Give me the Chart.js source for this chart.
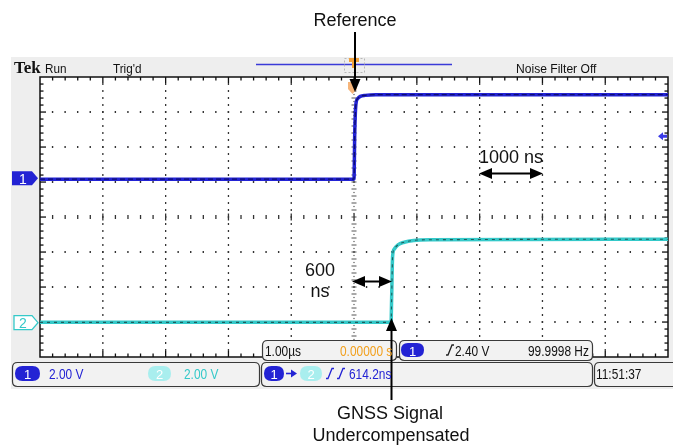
<!DOCTYPE html>
<html><head><meta charset="utf-8">
<script src="https://cdn.jsdelivr.net/npm/chart.js@4/dist/chart.umd.min.js"></script>
<style>
html,body{margin:0;padding:0;background:#fff;}
#wrap{position:relative;width:673px;height:445px;overflow:hidden;}
#c{position:absolute;left:0;top:0;}
.t{position:absolute;white-space:nowrap;font-family:"Liberation Sans",Arial,sans-serif;line-height:1;}
</style></head><body>
<div id="wrap"><canvas id="c" width="673" height="445"></canvas></div>
<script>
// ---- waveform data (time in microseconds, volts) ----
const ch1TimeUs = [-5, 0, 0.012, 0.03, 0.06, 0.1, 0.18, 0.35, 5];
const ch1Volts  = [-0.06, -0.06, 2.6, 4.2, 4.55, 4.67, 4.73, 4.77, 4.77];
const ch2TimeUs = [-5, 0.59, 0.6, 0.615, 0.64, 0.7, 0.8, 0.95, 1.2, 5];
const ch2Volts  = [0.02, 0.02, 1.5, 3.8, 4.2, 4.45, 4.6, 4.7, 4.74, 4.77];
// ---- scope settings ----
const timePerDivUs = 1.0;
const timeDivs = 10;
const voltDivs = 8;
const ch1VoltsPerDiv = 2.0;
const ch1PositionDiv = 1.11;
const ch2VoltsPerDiv = 2.0;
const ch2PositionDiv = -3.02;
const ch1TriggerLevelV = 2.40;

const toPts = (xs, ys) => xs.map((x, i) => ({x, y: ys[i]}));

const PANEL = '#eeeeee';
const BLUE = '#2323d4';
const CYAN = '#35c9c9';

function rr(ctx, x, y, w, h, r){
  ctx.beginPath();
  ctx.moveTo(x+r, y); ctx.lineTo(x+w-r, y); ctx.quadraticCurveTo(x+w, y, x+w, y+r);
  ctx.lineTo(x+w, y+h-r); ctx.quadraticCurveTo(x+w, y+h, x+w-r, y+h);
  ctx.lineTo(x+r, y+h); ctx.quadraticCurveTo(x, y+h, x, y+h-r);
  ctx.lineTo(x, y+r); ctx.quadraticCurveTo(x, y, x+r, y); ctx.closePath();
}
function box(ctx, x, y, w, h){
  rr(ctx, x+0.5, y+0.5, w, h, 5);
  ctx.fillStyle = '#f2f2f2'; ctx.fill();
  ctx.strokeStyle = '#3a3a3a'; ctx.lineWidth = 1.2; ctx.stroke();
}
function pill(ctx, x, y, w, h, color){
  rr(ctx, x, y, w, h, h/2);
  ctx.fillStyle = color; ctx.fill();
}
function edge(ctx, x, y, color){
  ctx.beginPath();
  ctx.moveTo(x, y+5); ctx.lineTo(x+2, y+5); ctx.lineTo(x+6, y-5); ctx.lineTo(x+8, y-5);
  ctx.strokeStyle = color; ctx.lineWidth = 1.3; ctx.stroke();
}
function arrow(ctx, x1, y1, x2, y2, both){
  const L = 13, W = 5.5;
  const ang = Math.atan2(y2-y1, x2-x1);
  const head = (x, y, a) => {
    ctx.beginPath();
    ctx.moveTo(x, y);
    ctx.lineTo(x - L*Math.cos(a) + W*Math.sin(a), y - L*Math.sin(a) - W*Math.cos(a));
    ctx.lineTo(x - L*Math.cos(a) - W*Math.sin(a), y - L*Math.sin(a) + W*Math.cos(a));
    ctx.closePath(); ctx.fill();
  };
  ctx.strokeStyle = '#000'; ctx.fillStyle = '#000'; ctx.lineWidth = 2;
  ctx.beginPath();
  ctx.moveTo(x1 + (both ? 8*Math.cos(ang) : 0), y1 + (both ? 8*Math.sin(ang) : 0));
  ctx.lineTo(x2 - 8*Math.cos(ang), y2 - 8*Math.sin(ang));
  ctx.stroke();
  head(x2, y2, ang);
  if (both) head(x1, y1, ang + Math.PI);
}

const scopePlugin = {
  id: 'scope',
  beforeDraw(chart){
    const ctx = chart.ctx, a = chart.chartArea;
    ctx.save();
    ctx.fillStyle = '#fff'; ctx.fillRect(0, 0, chart.width, chart.height);
    ctx.fillStyle = PANEL; ctx.fillRect(11, 57, chart.width - 11, 332);
    ctx.fillStyle = '#fff'; ctx.fillRect(a.left, a.top, a.right - a.left, a.bottom - a.top);
    const L = a.left, R = a.right, T = a.top, B = a.bottom;
    const dx = (R - L) / timeDivs, dy = (B - T) / voltDivs;
    ctx.fillStyle = '#333';
    // dotted graticule lines
    for (let i = 1; i < timeDivs; i++){
      if (i === timeDivs/2) continue;
      const x = L + i*dx;
      for (let k = 1; k < voltDivs*5; k++) ctx.fillRect(x - 0.6, T + k*dy/5 - 1, 1.3, 2);
    }
    for (let j = 1; j < voltDivs; j++){
      if (j === voltDivs/2) continue;
      const y = T + j*dy;
      for (let k = 1; k < timeDivs*5; k++) ctx.fillRect(L + k*dx/5 - 0.7, y - 1, 1.4, 2);
    }
    // center cross with ticks
    const cx = L + dx*timeDivs/2, cy = T + dy*voltDivs/2;
    ctx.fillStyle = '#555';
    for (let k = 1; k < voltDivs*10; k++){
      const y = T + k*dy/10;
      if (k % 2 === 0) ctx.fillRect(cx - 2.5, y - 0.5, 5, 1);
      else ctx.fillRect(cx - 0.6, y - 0.6, 1.2, 1.2);
    }
    ctx.fillStyle = '#333';
    for (let k = 1; k < timeDivs*5; k++){
      const x = L + k*dx/5;
      const h = (k % 5 === 0) ? 7 : 4;
      ctx.fillRect(x - 0.6, cy - h/2, 1.3, h);
    }
    // border with inward ticks
    ctx.strokeStyle = '#111'; ctx.lineWidth = 1.5;
    ctx.strokeRect(L, T, R - L, B - T);
    ctx.fillStyle = '#111';
    for (let k = 1; k < timeDivs*5; k++){
      const x = L + k*dx/5, h = (k % 5 === 0) ? 6 : 3.5;
      ctx.fillRect(x - 0.6, T, 1.3, h);
      ctx.fillRect(x - 0.6, B - h, 1.3, h);
    }
    for (let k = 1; k < voltDivs*5; k++){
      const y = T + k*dy/5, w = (k % 5 === 0) ? 6 : 3.5;
      ctx.fillRect(L, y - 0.6, w, 1.3);
      ctx.fillRect(R - w, y - 0.6, w, 1.3);
    }
    // header: horizontal record bar + trigger position
    ctx.strokeStyle = '#3a3ad8'; ctx.lineWidth = 1.6;
    ctx.beginPath(); ctx.moveTo(256, 64.5); ctx.lineTo(452, 64.5); ctx.stroke();
    ctx.strokeStyle = '#b8b8b8'; ctx.lineWidth = 1; ctx.setLineDash([2, 2]);
    ctx.strokeRect(344.5, 58.5, 20, 14); ctx.setLineDash([]);
    ctx.fillStyle = '#f2a23c';
    ctx.beginPath(); ctx.moveTo(349, 58); ctx.lineTo(359, 58); ctx.lineTo(359, 62);
    ctx.lineTo(356, 62); ctx.lineTo(356, 68); ctx.lineTo(352, 68); ctx.lineTo(352, 62);
    ctx.lineTo(349, 62); ctx.closePath(); ctx.fill();
    ctx.restore();
  },
  afterDatasetsDraw(chart){
    const ctx = chart.ctx, a = chart.chartArea;
    const y1 = chart.scales.y1, y2 = chart.scales.y2;
    ctx.save();
    // trigger position marker inside graticule
    ctx.fillStyle = '#f6b57a';
    ctx.beginPath(); ctx.moveTo(348, 82); ctx.lineTo(357, 82); ctx.lineTo(357, 89);
    ctx.lineTo(352.5, 94); ctx.lineTo(348, 89); ctx.closePath(); ctx.fill();
    // channel ground markers
    const g1 = y1.getPixelForValue(0), g2 = y2.getPixelForValue(0);
    ctx.fillStyle = BLUE;
    ctx.beginPath(); ctx.moveTo(12, g1-7); ctx.lineTo(32, g1-7); ctx.lineTo(38, g1);
    ctx.lineTo(32, g1+7); ctx.lineTo(12, g1+7); ctx.closePath(); ctx.fill();
    ctx.fillStyle = '#fff'; ctx.strokeStyle = CYAN; ctx.lineWidth = 1.3;
    ctx.beginPath(); ctx.moveTo(14, g2-7); ctx.lineTo(32, g2-7); ctx.lineTo(38, g2);
    ctx.lineTo(32, g2+7); ctx.lineTo(14, g2+7); ctx.closePath(); ctx.fill(); ctx.stroke();
    // trigger level marker (ch1) on right edge
    const tl = y1.getPixelForValue(ch1TriggerLevelV);
    ctx.fillStyle = '#3b3be6';
    ctx.beginPath(); ctx.moveTo(658, tl); ctx.lineTo(663, tl-4); ctx.lineTo(663, tl-1.5);
    ctx.lineTo(667, tl-1.5); ctx.lineTo(667, tl+1.5); ctx.lineTo(663, tl+1.5);
    ctx.lineTo(663, tl+4); ctx.closePath(); ctx.fill();
    // readout boxes
    box(ctx, 262, 340, 134, 20);
    box(ctx, 399, 340, 193, 20);
    box(ctx, 12, 362, 247, 24);
    box(ctx, 261, 362, 331, 24);
    box(ctx, 594, 362, 90, 24);
    pill(ctx, 401, 343, 23, 14, BLUE);
    edge(ctx, 446, 350, '#222');
    pill(ctx, 15, 366, 25, 15, BLUE);
    pill(ctx, 148, 366, 23, 15, '#a9eeee');
    pill(ctx, 264, 366, 20, 15, BLUE);
    ctx.fillStyle = BLUE;
    ctx.beginPath(); ctx.moveTo(286, 373.5); ctx.lineTo(292, 373.5); ctx.strokeStyle = BLUE; ctx.lineWidth = 1.6; ctx.stroke();
    ctx.beginPath(); ctx.moveTo(297, 373.5); ctx.lineTo(291, 369.5); ctx.lineTo(291, 377.5); ctx.closePath(); ctx.fill();
    pill(ctx, 300, 366, 22, 15, '#a9eeee');
    edge(ctx, 326, 373.5, BLUE);
    edge(ctx, 337, 373.5, BLUE);
    // annotation arrows
    arrow(ctx, 355, 32, 355, 92, false);
    arrow(ctx, 391.5, 400, 391.5, 318, false);
    arrow(ctx, 479, 173.5, 543, 173.5, true);
    arrow(ctx, 352, 281.5, 392, 281.5, true);
    ctx.restore();
  }
};

const chart = new Chart(document.getElementById('c'), {
  type: 'line',
  data: {
    datasets: [
      {data: toPts(ch1TimeUs, ch1Volts), yAxisID: 'y1', borderColor: '#0e0e72', borderWidth: 1.3, borderDash: [5, 3]},
      {data: toPts(ch1TimeUs, ch1Volts), yAxisID: 'y1', borderColor: BLUE, borderWidth: 3.5},
      {data: toPts(ch2TimeUs, ch2Volts), yAxisID: 'y2', borderColor: '#1e5e5e', borderWidth: 1.1, borderDash: [3, 4]},
      {data: toPts(ch2TimeUs, ch2Volts), yAxisID: 'y2', borderColor: CYAN, borderWidth: 3.5}
    ]
  },
  options: {
    responsive: false,
    animation: false,
    events: [],
    layout: {padding: {left: 40, top: 77, right: 5, bottom: 88}},
    elements: {point: {radius: 0}, line: {cubicInterpolationMode: 'monotone', fill: false}},
    plugins: {legend: {display: false}, tooltip: {enabled: false}},
    scales: {
      x: {type: 'linear', display: false, min: -timePerDivUs*timeDivs/2, max: timePerDivUs*timeDivs/2},
      y1: {type: 'linear', display: false, min: (-voltDivs/2 - ch1PositionDiv)*ch1VoltsPerDiv, max: (voltDivs/2 - ch1PositionDiv)*ch1VoltsPerDiv},
      y2: {type: 'linear', display: false, min: (-voltDivs/2 - ch2PositionDiv)*ch2VoltsPerDiv, max: (voltDivs/2 - ch2PositionDiv)*ch2VoltsPerDiv}
    }
  },
  plugins: [scopePlugin]
});

// ---- real text labels ----
const wrap = document.getElementById('wrap');
function label(text, x, cy, opt){
  opt = opt || {};
  const d = document.createElement('div');
  d.className = 't';
  d.textContent = text;
  d.style.left = x + 'px';
  d.style.top = cy + 'px';
  d.style.fontSize = (opt.size || 13) + 'px';
  d.style.color = opt.color || '#111';
  if (opt.family) d.style.fontFamily = opt.family;
  if (opt.weight) d.style.fontWeight = opt.weight;
  const sx = opt.sx || 1;
  d.style.transform = (opt.center ? 'translate(-50%,-50%)' : 'translateY(-50%)') + ' scaleX(' + sx + ')';
  d.style.transformOrigin = opt.center ? 'center' : 'left center';
  wrap.appendChild(d);
}
const g1px = chart.scales.y1.getPixelForValue(0);
const g2px = chart.scales.y2.getPixelForValue(0);
label('Tek', 14, 67, {size: 17, weight: 'bold', family: '"Liberation Serif",serif'});
label('Run', 45, 68, {size: 13, sx: 0.9});
label("Trig'd", 113, 68, {size: 13, sx: 0.9});
label('Noise Filter Off', 516, 68, {size: 13, sx: 0.93});
label('1', 23, g1px + 0.5, {size: 14, center: true, color: '#fff'});
label('2', 23, g2px + 0.5, {size: 14, center: true, color: CYAN});
label('Reference', 355, 20, {size: 18, center: true});
label('1000 ns', 511, 157, {size: 18, center: true});
label('600', 320, 270, {size: 18, center: true});
label('ns', 320, 291, {size: 18, center: true});
label('GNSS Signal', 390, 413, {size: 18, center: true});
label('Undercompensated', 391, 435, {size: 18, center: true});
label('1.00\u00b5s', 265, 351, {size: 14, sx: 0.85});
label('0.00000 s', 340, 351, {size: 14, sx: 0.85, color: '#f2a01e'});
label('1', 412.5, 351, {size: 13, center: true, color: '#fff'});
label('2.40 V', 455, 351, {size: 14, sx: 0.85});
label('99.9998 Hz', 528, 351, {size: 14, sx: 0.85});
label('1', 27.5, 374, {size: 13, center: true, color: '#fff'});
label('2.00 V', 49, 374, {size: 14, sx: 0.85, color: BLUE});
label('2', 159.5, 374, {size: 13, center: true, color: '#fff'});
label('2.00 V', 184, 374, {size: 14, sx: 0.85, color: CYAN});
label('1', 274, 374, {size: 13, center: true, color: '#fff'});
label('2', 311, 374, {size: 13, center: true, color: '#fff'});
label('614.2ns', 349, 374, {size: 14, sx: 0.85, color: BLUE});
label('11:51:37', 596, 374, {size: 14, sx: 0.85});
</script>
</body></html>
